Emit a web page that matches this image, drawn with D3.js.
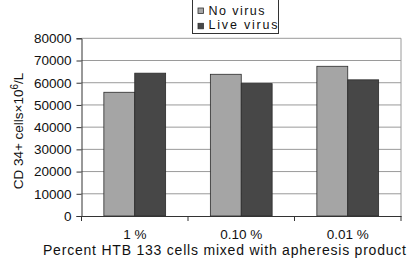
<!DOCTYPE html>
<html><head><meta charset="utf-8">
<script src="https://cdn.jsdelivr.net/npm/d3@7"></script>
<style>body{margin:0;background:#fff}svg{display:block}text{font-family:"Liberation Sans",Arial,sans-serif;fill:#111}</style>
</head><body>
<script>
const categories = ["1 %", "0.10 %", "0.01 %"];
const seriesNames = ["No virus", "Live virus"];
const noVirus = [55700, 63800, 67400];
const liveVirus = [64300, 59600, 61300];
const yTicks = [0, 10000, 20000, 30000, 40000, 50000, 60000, 70000, 80000];
const colors = ["#a5a5a5", "#474747"];

const W = 408, H = 261;
const m = {left: 81.5, right: 7, top: 38.3, bottom: 45};
const svg = d3.select("body").append("svg").attr("width", W).attr("height", H);
const x = d3.scaleBand().domain(categories).range([m.left, W - m.right]).paddingInner(0).paddingOuter(0);
const y = d3.scaleLinear().domain([0, 80000]).range([H - m.bottom, m.top]);
const inner = 0.21;
const x1 = d3.scaleBand().domain(seriesNames).range([x.bandwidth()*inner, x.bandwidth()*(1-inner)]);

// gridlines
svg.append("g").selectAll("line").data(yTicks.slice(1)).join("line")
  .attr("x1", m.left).attr("x2", W - m.right)
  .attr("y1", d => y(d)).attr("y2", d => y(d))
  .attr("stroke", "#9a9a9a").attr("stroke-width", 1);
// right border
svg.append("line").attr("x1", W - m.right).attr("x2", W - m.right)
  .attr("y1", m.top).attr("y2", y(0)).attr("stroke", "#9a9a9a");

const data = categories.map((c, i) => ({c, vals: [noVirus[i], liveVirus[i]]}));
svg.append("g").selectAll("g").data(data).join("g")
  .attr("transform", d => `translate(${x(d.c)},0)`)
  .selectAll("rect").data(d => d.vals.map((v, j) => ({v, s: seriesNames[j], j}))).join("rect")
  .attr("x", d => x1(d.s)).attr("width", x1.bandwidth())
  .attr("y", d => y(d.v)).attr("height", d => y(0) - y(d.v))
  .attr("fill", d => colors[d.j]).attr("stroke", "#2a2a2a").attr("stroke-width", 0.8);

// y axis
const ya = svg.append("g").attr("transform", `translate(${m.left},0)`)
  .call(d3.axisLeft(y).tickValues(yTicks).tickFormat(d3.format("d")).tickSize(5).tickPadding(5));
ya.select(".domain").attr("stroke", "#333");
ya.selectAll(".tick line").attr("stroke", "#333");
ya.selectAll("text").style("font-size", "13.5px").attr("fill", "#111");

// x axis
const xa = svg.append("g").attr("transform", `translate(0,${y(0)})`)
  .call(d3.axisBottom(x).tickSize(0).tickPadding(13));
xa.select(".domain").attr("stroke", "#333");
xa.selectAll("text").style("font-size", "13.5px").attr("fill", "#111");
// boundary ticks
const bounds = categories.map(c => x(c)).concat([x(categories[categories.length-1]) + x.bandwidth()]);
svg.append("g").selectAll("line").data(bounds).join("line")
  .attr("x1", d => d).attr("x2", d => d).attr("y1", y(0)).attr("y2", y(0) + 5)
  .attr("stroke", "#333");

// axis titles
svg.append("text").attr("x", 43).attr("y", 255).style("font-size", "14px")
  .attr("textLength", 363).attr("lengthAdjust", "spacing")
  .text("Percent HTB 133 cells mixed with apheresis product");
const yt = svg.append("text").attr("transform", `translate(23,131) rotate(-90)`)
  .attr("text-anchor", "middle").style("font-size", "13.5px");
yt.append("tspan").text("CD 34+ cells\u00d710");
yt.append("tspan").attr("dy", -5).style("font-size", "10px").text("6");
yt.append("tspan").attr("dy", 5).text("/L");

// legend
const lg = svg.append("g");
lg.append("rect").attr("x", 192.5).attr("y", -2).attr("width", 86).attr("height", 35.5)
  .attr("fill", "#fff").attr("stroke", "#333");
const legW = [56, 69];
seriesNames.forEach((s, i) => {
  lg.append("rect").attr("x", 198).attr("y", 8 + i*15.3).attr("width", 5.5).attr("height", 5.5)
    .attr("fill", colors[i]).attr("stroke", "#333").attr("stroke-width", 0.8);
  lg.append("text").attr("x", 208.5).attr("y", 15 + i*14.3).style("font-size", "12.5px")
    .attr("textLength", legW[i]).attr("lengthAdjust", "spacing").text(s);
});
</script>
</body></html>
